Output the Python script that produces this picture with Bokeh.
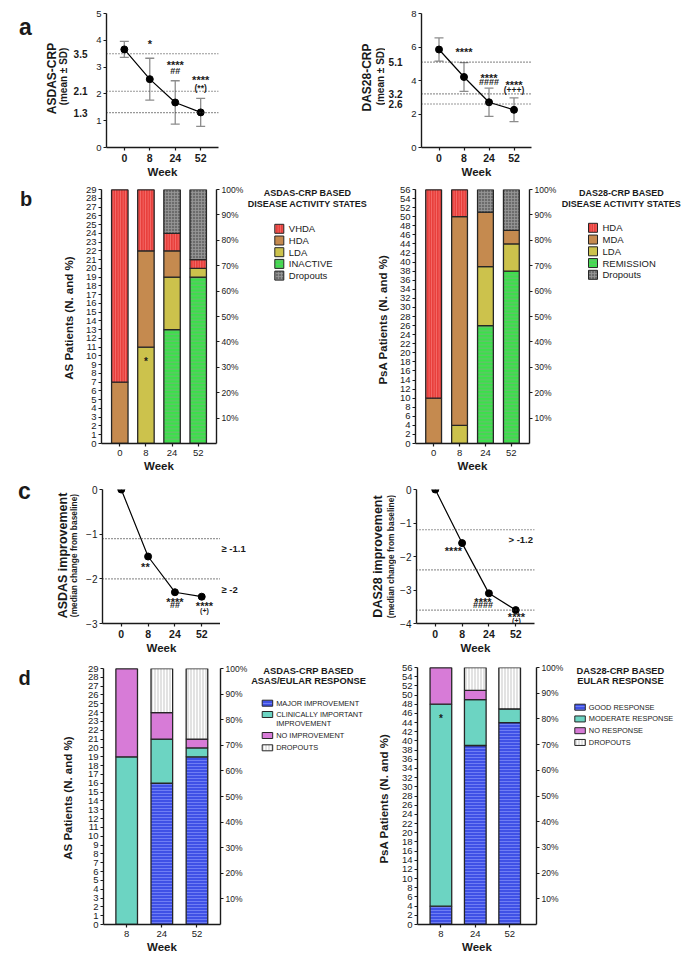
import math
from bokeh.plotting import figure
from bokeh.models import (Range1d, LinearAxis, FixedTicker, Span, Label,
                          ColumnDataSource, Whisker, TeeHead, PrintfTickFormatter)
from bokeh.layouts import column, row
from bokeh.embed import file_html
from bokeh.resources import INLINE

FONT = "Liberation Sans"

# ---------------- data ----------------
weeks = ["0", "8", "24", "52"]
asdas_mean = [3.66, 2.55, 1.68, 1.31]
asdas_sd = [0.30, 0.78, 0.81, 0.52]
asdas_cut = [3.5, 2.1, 1.3]
asdas_sig = [["*"], ["****", "##"], ["****", "(**)"]]          # weeks 8, 24, 52
das28_mean = [5.85, 4.21, 2.70, 2.25]
das28_sd = [0.69, 0.86, 0.84, 0.71]
das28_cut = [5.1, 3.2, 2.6]
das28_sig = [["****"], ["****", "####"], ["****", "(+++)"]]

as_states = ["VHDA", "HDA", "LDA", "INACTIVE", "Dropouts"]
as_inactive = [0, 0, 13, 19]
as_lda = [0, 11, 6, 1]
as_hda = [7, 11, 3, 0]
as_vhda = [22, 7, 2, 1]
as_drop = [0, 0, 5, 8]

psa_states = ["HDA", "MDA", "LDA", "REMISSION", "Dropouts"]
psa_remission = [0, 0, 26, 38]
psa_lda = [0, 4, 13, 6]
psa_mda = [10, 46, 12, 3]
psa_hda = [46, 6, 0, 0]
psa_drop = [0, 0, 5, 9]

asdas_impr = [0, -1.5, -2.3, -2.4]
asdas_impr_cut = [-1.1, -2.0]
asdas_impr_cut_text = ["\u2265 -1.1", "\u2265 -2"]
asdas_impr_sig = [["**"], ["****", "##"], ["****", "(+)"]]
das28_impr = [0, -1.6, -3.1, -3.6]
das28_impr_cut = [-1.2, -2.4, -3.6]
das28_impr_cut_text = ["> -1.2"]
das28_impr_sig = [["****"], ["****", "####"], ["****", "(+)"]]

resp_weeks = ["8", "24", "52"]
as_resp = ["MAJOR IMPROVEMENT", "CLINICALLY IMPORTANT", "NO IMPROVEMENT", "DROPOUTS"]
as_major = [0, 16, 19]
as_clin = [19, 5, 1]
as_noimp = [10, 3, 1]
as_resp_drop = [0, 5, 8]
psa_resp = ["GOOD RESPONSE", "MODERATE RESPONSE", "NO RESPONSE", "DROPOUTS"]
psa_good = [4, 39, 44]
psa_moderate = [44, 10, 3]
psa_noresp = [8, 2, 0]
psa_resp_drop = [0, 5, 9]

as_total = 29
psa_total = 56
pct_ticks = [10, 20, 30, 40, 50, 60, 70, 80, 90, 100]


# ---------------- geometry helper ----------------
class Geo:
    def __init__(self, fig_x, fig_w, row_y, row_h, fl, fr, ft, fb, xr, yr):
        self.w, self.h = fig_w, row_h
        self.mbl = int(round(fl - fig_x))
        self.mbr = int(round(fig_x + fig_w - fr))
        self.mbt = int(round(ft - row_y))
        self.mbb = int(round(row_y + row_h - fb))
        self.fl = fig_x + self.mbl
        self.fr = fig_x + fig_w - self.mbr
        self.ft = row_y + self.mbt
        self.fb = row_y + row_h - self.mbb
        self.xr, self.yr = xr, yr

    def Y(self, py):
        return self.yr[0] + (self.fb - py) / (self.fb - self.ft) * (self.yr[1] - self.yr[0])

    def py(self, v):
        return self.fb - (v - self.yr[0]) / (self.yr[1] - self.yr[0]) * (self.fb - self.ft)

    def dy(self, px):
        return px * (self.yr[1] - self.yr[0]) / (self.fb - self.ft)

    def dx(self, px):
        return px * (self.xr[1] - self.xr[0]) / (self.fr - self.fl)


RA, HA = 0, 181
RB, HB = 181, 293
RC, HC = 474, 182
RD, HD = 656, 299

ga_l = Geo(70, 155, RA, HA, 101, 218.3, 12.7, 147.3, (-0.7, 3.7), (0, 5))
ga_r = Geo(385, 300, RA, HA, 413.3, 530.7, 13.3, 147.3, (-0.7, 3.7), (0, 8))
gb_l = Geo(76, 170, RB, HB, 101, 217.3, 189, 445, (-0.7, 3.7), (0, as_total))
gb_r = Geo(392, 167, RB, HB, 415, 530.7, 189, 445, (-0.7, 3.7), (0, psa_total))
gc_l = Geo(80, 140, RC, HC, 102, 220, 489.3, 626, (-0.7, 3.7), (-3, 0))
gc_r = Geo(396, 289, RC, HC, 416, 534, 489.3, 626, (-0.7, 3.7), (-4, 0))
gd_l = Geo(76, 174, RD, HD, 103.3, 220.7, 668, 926, (-0.66, 2.67), (0, as_total))
gd_r = Geo(396, 170, RD, HD, 417.3, 539.3, 666.7, 925.3, (-0.68, 2.78), (0, psa_total))

INK = "#1a1a1a"


def no_align(p):
    try:
        p.frame_align = False
    except Exception:
        pass


def base_fig(g):
    p = figure(width=g.w, height=g.h, x_range=Range1d(*g.xr), y_range=Range1d(*g.yr),
               output_backend="svg", toolbar_location=None,
               min_border_left=g.mbl, min_border_right=g.mbr,
               min_border_top=g.mbt, min_border_bottom=g.mbb)
    p.outline_line_color = None
    p.xgrid.visible = False
    p.ygrid.visible = False
    no_align(p)
    return p


def ann_fig(x0, x1, row_y, row_h):
    # text-only strip; its ranges are page pixels (y grows downward)
    p = figure(width=x1 - x0, height=row_h, x_range=Range1d(x0, x1),
               y_range=Range1d(row_y + row_h, row_y), output_backend="svg",
               toolbar_location=None, x_axis_location=None, y_axis_location=None,
               min_border_left=0, min_border_right=0, min_border_top=0, min_border_bottom=0)
    p.outline_line_color = None
    p.grid.visible = False
    no_align(p)
    return p


def style_axis(ax, size, bold=False, standoff=2):
    ax.axis_line_width = 1.4
    ax.axis_line_color = INK
    ax.major_tick_line_width = 1.2
    ax.major_tick_line_color = INK
    ax.major_tick_in = 0
    ax.major_tick_out = 3
    ax.minor_tick_line_color = None
    ax.major_label_text_font = FONT
    ax.major_label_text_font_size = size
    ax.major_label_text_font_style = "bold" if bold else "normal"
    ax.major_label_text_color = INK
    ax.major_label_standoff = standoff


def setup_xaxis(p, labels, size, bold):
    ax = p.xaxis[0]
    ax.ticker = FixedTicker(ticks=list(range(len(labels))))
    ax.major_label_overrides = {i: t for i, t in enumerate(labels)}
    style_axis(ax, size, bold, standoff=3)
    ax.axis_label = "Week"
    ax.axis_label_text_font = FONT
    ax.axis_label_text_font_size = "11.5px"
    ax.axis_label_text_font_style = "bold"
    ax.axis_label_text_color = INK
    ax.axis_label_standoff = 1


def lab(p, x, y, text, size, bold=True, align="center", baseline="middle", angle=0.0):
    p.add_layout(Label(x=x, y=y, text=text, text_font=FONT, text_font_size=f"{size}px",
                       text_font_style="bold" if bold else "normal", text_align=align,
                       text_baseline=baseline, angle=angle, text_color=INK))


VERT = math.pi / 2

# ---------------- styles ----------------
STY = {
    "red": dict(fill_color="#E8403C", hatch_pattern="vertical_line", hatch_color="#FF9090",
                hatch_alpha=0.6, hatch_scale=2.5, hatch_weight=1.0),
    "tan": dict(fill_color="#C58A4F"),
    "olive": dict(fill_color="#CCC24C"),
    "green": dict(fill_color="#3BE04A", hatch_pattern="horizontal_line", hatch_color="#86A886",
                  hatch_alpha=0.7, hatch_scale=3.5, hatch_weight=1.0),
    "dgray": dict(fill_color="#6C6C6C", hatch_pattern="cross", hatch_color="#999999",
                  hatch_alpha=0.8, hatch_scale=3.0, hatch_weight=1.0),
    "blue": dict(fill_color="#3F51E6", hatch_pattern="horizontal_line", hatch_color="#97A2FF",
                 hatch_alpha=0.55, hatch_scale=3.0, hatch_weight=1.0),
    "teal": dict(fill_color="#6CD4C2"),
    "pink": dict(fill_color="#D77BD7"),
    "lgray": dict(fill_color="#E2E2E2", hatch_pattern="vertical_line", hatch_color="#FFFFFF",
                  hatch_alpha=0.95, hatch_scale=3.0, hatch_weight=1.0),
}


# ---------------- panel a ----------------
def panel_a(g, means, sds, cuts, ticks, sig, off1, off2):
    p = base_fig(g)
    setup_xaxis(p, weeks, "10.5px", True)
    yax = p.yaxis[0]
    yax.ticker = FixedTicker(ticks=ticks)
    style_axis(yax, "9.5px", False, 2)
    cut_ax = LinearAxis(ticker=FixedTicker(ticks=cuts))
    style_axis(cut_ax, "10px", True, 3)
    cut_ax.axis_line_color = None
    cut_ax.major_tick_line_color = None
    p.add_layout(cut_ax, "left")
    for c in cuts:
        p.add_layout(Span(location=c, dimension="width", line_dash="1 2",
                          line_color="#333333", line_width=1.1))
    xs = list(range(len(weeks)))
    src = ColumnDataSource(dict(x=xs, m=means,
                                up=[m + s for m, s in zip(means, sds)],
                                lo=[m - s for m, s in zip(means, sds)]))
    gray = "#8c8c8c"
    p.add_layout(Whisker(base="x", upper="up", lower="lo", source=src, line_color=gray,
                         line_width=1.3,
                         upper_head=TeeHead(size=9, line_color=gray, line_width=1.3),
                         lower_head=TeeHead(size=9, line_color=gray, line_width=1.3)))
    p.line("x", "m", source=src, line_color="black", line_width=1.2)
    p.scatter("x", "m", source=src, size=7, color="black")
    for i, lines in enumerate(sig, start=1):
        top = means[i] + sds[i]
        lab(p, i, top + g.dy(off1[i - 1]), lines[0], 11)
        if len(lines) > 1:
            sz = 9 if lines[1].startswith("#") else 8.5
            lab(p, i, top + g.dy(off2[i - 1]), lines[1], sz)
    return p


fa_l = panel_a(ga_l, asdas_mean, asdas_sd, asdas_cut, [0, 1, 2, 3, 4, 5], asdas_sig,
               [14, 16, 18], [0, 9.8, 10.8])
fa_r = panel_a(ga_r, das28_mean, das28_sd, das28_cut, [0, 2, 4, 6, 8], das28_sig,
               [10.5, 10.5, 13], [0, 6.5, 8.2])

fa_a0 = ann_fig(0, 70, RA, HA)
lab(fa_a0, 25, 26, "a", 23)
lab(fa_a0, 51, 78, "ASDAS-CRP", 12, angle=VERT)
lab(fa_a0, 63, 76, "(mean \u00b1 SD)", 10, angle=VERT)
fa_a1 = ann_fig(225, 385, RA, HA)
lab(fa_a1, 366, 77, "DAS28-CRP", 12, angle=VERT)
lab(fa_a1, 379.5, 76, "(mean \u00b1 SD)", 10, angle=VERT)


# ---------------- bar panels ----------------
def bar_panel(g, cats, layers, yticks, width):
    p = base_fig(g)
    setup_xaxis(p, cats, "9.5px", False)
    yax = p.yaxis[0]
    yax.ticker = FixedTicker(ticks=yticks)
    style_axis(yax, "9.5px", False, 2)
    p.extra_y_ranges = {"pct": Range1d(0, 100)}
    pax = LinearAxis(y_range_name="pct", ticker=FixedTicker(ticks=pct_ticks),
                     formatter=PrintfTickFormatter(format="%d%%"))
    style_axis(pax, "8.5px", False, 2)
    p.add_layout(pax, "right")
    xs = list(range(len(cats)))
    bottom = [0] * len(cats)
    for vals, sty in layers:
        top = [b + v for b, v in zip(bottom, vals)]
        p.vbar(x=xs, bottom=bottom, top=top, width=width, line_color="#262626",
               line_width=1.3, **STY[sty])
        bottom = top
    return p


def swatches(p, labels, styles, left, ys, sw, sh, font, standoff):
    for t, s, cy in zip(labels, styles, ys):
        p.quad(left=[left], right=[left + sw], top=[cy - sh / 2], bottom=[cy + sh / 2],
               line_color="#262626", line_width=1.0, **STY[s])
        lab(p, left + sw + standoff, cy, t, font, bold=False, align="left")


def titles(p, lines, cx, ys, size):
    for t, y in zip(lines, ys):
        lab(p, cx, y, t, size)


fb_l = bar_panel(gb_l, weeks,
                 [(as_inactive, "green"), (as_lda, "olive"), (as_hda, "tan"),
                  (as_vhda, "red"), (as_drop, "dgray")],
                 list(range(0, as_total + 1)), 0.63)
lab(fb_l, 1, gb_l.Y(362.5), "*", 10)
fb_r = bar_panel(gb_r, weeks,
                 [(psa_remission, "green"), (psa_lda, "olive"), (psa_mda, "tan"),
                  (psa_hda, "red"), (psa_drop, "dgray")],
                 list(range(0, psa_total + 1, 2)), 0.61)

fb_a0 = ann_fig(0, 76, RB, HB)
lab(fb_a0, 25.5, 198, "b", 20)
lab(fb_a0, 68, 316, "AS Patients  (N. and %)", 11.5, angle=VERT)
fb_a1 = ann_fig(246, 392, RB, HB)
titles(fb_a1, ["ASDAS-CRP BASED", "DISEASE ACTIVITY STATES"], 307, [192.7, 203.3], 9)
swatches(fb_a1, as_states, ["red", "tan", "olive", "green", "dgray"], 274.3,
         [228.3 + 11.7 * k for k in range(5)], 9, 9, 9.5, 5)
lab(fb_a1, 382, 316, "PsA  Patients  (N. and %)", 11.5, angle=VERT)
fb_a2 = ann_fig(559, 685, RB, HB)
titles(fb_a2, ["DAS28-CRP BASED", "DISEASE ACTIVITY STATES"], 621, [192.7, 203.3], 9)
swatches(fb_a2, psa_states, ["red", "tan", "olive", "green", "dgray"], 588,
         [227.3 + 11.75 * k for k in range(5)], 9, 9, 9.5, 5)


# ---------------- panel c ----------------
def panel_c(g, vals, cuts, ticks, sig, offs):
    p = base_fig(g)
    setup_xaxis(p, weeks, "10.5px", True)
    yax = p.yaxis[0]
    yax.ticker = FixedTicker(ticks=ticks)
    style_axis(yax, "10px", False, 2)
    for c in cuts:
        p.add_layout(Span(location=c, dimension="width", line_dash="1 2",
                          line_color="#333333", line_width=1.1))
    xs = list(range(len(weeks)))
    src = ColumnDataSource(dict(x=xs, v=vals))
    p.line("x", "v", source=src, line_color="black", line_width=1.2)
    p.scatter("x", "v", source=src, size=7, color="black")
    for i, lines in enumerate(sig, start=1):
        dxp, d1, d2 = offs[i - 1]
        lab(p, i + g.dx(dxp), vals[i] - g.dy(d1), lines[0], 11)
        if len(lines) > 1:
            sz = 9 if lines[1].startswith("#") else 7
            lab(p, i + g.dx(dxp), vals[i] - g.dy(d2), lines[1], sz)
    return p


fc_l = panel_c(gc_l, asdas_impr, asdas_impr_cut, [0, -1, -2, -3], asdas_impr_sig,
               [(-2.7, 10.5, 0), (0, 9.5, 13), (2.7, 9, 14)])
fc_r = panel_c(gc_r, das28_impr, das28_impr_cut, [0, -1, -2, -3, -4], das28_impr_sig,
               [(-8.7, 8.5, 0), (-6, 9, 11.5), (0.7, 7.5, 10.5)])
lab(fc_r, gc_r.xr[1] - gc_r.dx(1.5), das28_impr_cut[0] - gc_r.dy(10.4), das28_impr_cut_text[0],
    9.5, align="right")

fc_a0 = ann_fig(0, 80, RC, HC)
lab(fc_a0, 24, 490, "c", 23)
lab(fc_a0, 62, 555, "ASDAS improvement", 12.5, angle=VERT)
lab(fc_a0, 73, 555, "(median change from baseline)", 8.4, angle=VERT)
fc_a1 = ann_fig(220, 396, RC, HC)
for c, t in zip(asdas_impr_cut, asdas_impr_cut_text):
    lab(fc_a1, 221, gc_l.py(c) + 8.5, t, 9.5, align="left")
lab(fc_a1, 377, 556, "DAS28 improvement", 12.5, angle=VERT)
lab(fc_a1, 390, 556, "(median change from baseline)", 8.4, angle=VERT)

# ---------------- panel d ----------------
fd_l = bar_panel(gd_l, resp_weeks,
                 [(as_major, "blue"), (as_clin, "teal"), (as_noimp, "pink"),
                  (as_resp_drop, "lgray")],
                 list(range(0, as_total + 1)), 0.615)
fd_r = bar_panel(gd_r, resp_weeks,
                 [(psa_good, "blue"), (psa_moderate, "teal"), (psa_noresp, "pink"),
                  (psa_resp_drop, "lgray")],
                 list(range(0, psa_total + 1, 2)), 0.63)
lab(fd_r, 0, gd_r.Y(718.5), "*", 10)

fd_a0 = ann_fig(0, 76, RD, HD)
lab(fd_a0, 24, 677, "d", 20)
lab(fd_a0, 67, 796, "AS Patients  (N. and %)", 11.5, angle=VERT)
fd_a1 = ann_fig(250, 396, RD, HD)
titles(fd_a1, ["ASDAS-CRP BASED", "ASAS/EULAR RESPONSE"], 308, [670, 680.7], 9.3)
swatches(fd_a1, as_resp, ["blue", "teal", "pink", "lgray"], 261.7,
         [702.7, 714, 735, 747.3], 10.5, 6, 7.4, 3.5)
lab(fd_a1, 275.7, 723.3, "IMPROVEMENT", 7.4, bold=False, align="left")
lab(fd_a1, 383, 795, "PsA  Patients  (N. and %)", 11.5, angle=VERT)
fd_a2 = ann_fig(566, 685, RD, HD)
titles(fd_a2, ["DAS28-CRP BASED", "EULAR RESPONSE"], 620, [670, 680.7], 9.3)
swatches(fd_a2, psa_resp, ["blue", "teal", "pink", "lgray"], 574.3,
         [706.7 + 11.75 * k for k in range(4)], 10.5, 6, 7.4, 3.5)

layout = column(
    row(fa_a0, fa_l, fa_a1, fa_r),
    row(fb_a0, fb_l, fb_a1, fb_r, fb_a2),
    row(fc_a0, fc_l, fc_a1, fc_r),
    row(fd_a0, fd_l, fd_a1, fd_r, fd_a2),
)
open("out.html", "w").write(file_html(layout, INLINE))
